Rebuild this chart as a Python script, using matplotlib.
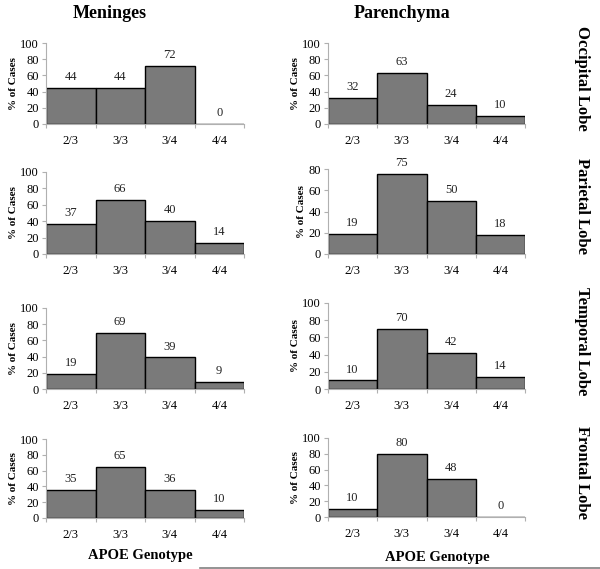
import numpy as np
import matplotlib
matplotlib.use("Agg")
import matplotlib.pyplot as plt

plt.rcParams['font.family'] = ['Liberation Serif', 'DejaVu Serif']

genotypes = ['2/3', '3/3', '3/4', '4/4']
lobes = ['Occipital Lobe', 'Parietal Lobe', 'Temporal Lobe', 'Frontal Lobe']

meninges_occipital = [44, 44, 72, 0]
meninges_parietal = [37, 66, 40, 14]
meninges_temporal = [19, 69, 39, 9]
meninges_frontal = [35, 65, 36, 10]

parenchyma_occipital = [32, 63, 24, 10]
parenchyma_parietal = [19, 75, 50, 18]
parenchyma_temporal = [10, 70, 42, 14]
parenchyma_frontal = [10, 80, 48, 0]

meninges = [meninges_occipital, meninges_parietal, meninges_temporal, meninges_frontal]
parenchyma = [parenchyma_occipital, parenchyma_parietal, parenchyma_temporal, parenchyma_frontal]
ymax_par = [100, 80, 100, 100]

W, H = 600, 569
fig = plt.figure(figsize=(6, 5.69), dpi=100)

# pixel boxes (top, bottom) for each row, left / right column
rows_left = [(43, 124), (172, 254), (308, 389), (439, 518)]
rows_right = [(43, 124), (169, 254), (303, 389), (438, 517)]
xl = (46, 244)
xr = (328, 525)


def make_ax(xs, ys):
    return fig.add_axes([xs[0] / W, 1 - ys[1] / H, (xs[1] - xs[0]) / W, (ys[1] - ys[0]) / H])


def draw(ax, vals, ymax):
    x = np.arange(len(vals)) + 0.5
    ax.bar(x, vals, width=1.0, color='#7a7a7a', edgecolor='black', linewidth=1.0)
    for xi, v in zip(x, vals):
        ax.annotate(str(v), (xi, v), xytext=(0, 3.5), textcoords='offset points',
                    ha='center', va='bottom', fontsize=9, color='#222222')
    ax.set_xlim(0, 4)
    ax.set_ylim(0, ymax)
    ax.set_yticks(np.arange(0, ymax + 1, 20))
    ax.set_xticks(np.arange(0, 5), minor=False)
    ax.set_xticklabels([])
    ax.set_xticks(x, minor=True)
    ax.set_xticklabels(genotypes, minor=True)
    ax.tick_params(axis='x', which='minor', length=0, pad=8, labelsize=9)
    ax.tick_params(axis='x', which='major', length=3, color='#b0b0b0')
    ax.tick_params(axis='y', length=3, color='#b0b0b0', labelsize=9, pad=2)
    for s in ['top', 'right']:
        ax.spines[s].set_visible(False)
    for s in ['left', 'bottom']:
        ax.spines[s].set_color('#b0b0b0')
    ax.set_ylabel('% of Cases', fontsize=8, fontweight='bold', labelpad=2)


for i in range(4):
    axl = make_ax(xl, rows_left[i])
    draw(axl, meninges[i], 100)
    axr = make_ax(xr, rows_right[i])
    draw(axr, parenchyma[i], ymax_par[i])
    yc = (rows_right[i][0] + rows_right[i][1]) / 2 - 5
    fig.text(582 / W, 1 - yc / H, lobes[i], rotation=-90, ha='center', va='center',
             fontsize=12, fontweight='bold')

fig.text(110 / W, 1 - 13 / H, 'Meninges', ha='center', va='center', fontsize=13, fontweight='bold')
fig.text(402 / W, 1 - 13 / H, 'Parenchyma', ha='center', va='center', fontsize=13, fontweight='bold')
fig.text(140 / W, 1 - 555 / H, 'APOE Genotype', ha='center', va='center', fontsize=10.5, fontweight='bold')
fig.text(437 / W, 1 - 557 / H, 'APOE Genotype', ha='center', va='center', fontsize=10.5, fontweight='bold')
fig.add_artist(plt.Line2D([200 / W, 1], [1 - 567.5 / H] * 2, color='#808080', linewidth=1.2))

fig.savefig('out.png', dpi=100)
